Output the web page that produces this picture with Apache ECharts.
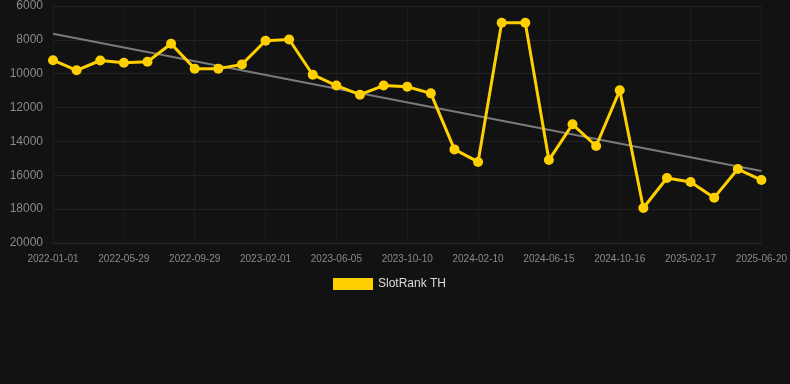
<!DOCTYPE html>
<html>
<head>
<meta charset="utf-8">
<script src="https://cdn.jsdelivr.net/npm/echarts@6/dist/echarts.min.js"></script>
<style>
html,body{margin:0;padding:0;background:#121212;}
#chart{width:790px;height:384px;}
</style>
</head>
<body>
<div id="chart"></div>
<script>
const categories = ["2022-01-01","2022-02-19","2022-04-09","2022-05-29","2022-07-10","2022-08-19","2022-09-29","2022-11-10","2022-12-21","2023-02-01","2023-03-15","2023-04-25","2023-06-05","2023-07-17","2023-08-28","2023-10-10","2023-11-20","2023-12-31","2024-02-10","2024-03-22","2024-05-04","2024-06-15","2024-07-26","2024-09-05","2024-10-16","2024-11-27","2025-01-07","2025-02-17","2025-03-31","2025-05-10","2025-06-20"];
const rankValues = [9200,9800,9220,9350,9290,8230,9700,9700,9450,8050,7980,10060,10700,11240,10700,10770,11160,14470,15210,6990,6990,15100,12990,14270,10980,17930,16160,16400,17320,15630,16280];
const trendStart = 7640;
const trendEnd = 15750;
const yTicks = {min:6000, max:20000, interval:2000};

const chart = echarts.init(document.getElementById('chart'));
chart.setOption({
  backgroundColor:'#121212',
  animation:false,
  grid:{left:53,right:28,top:6,bottom:141,containLabel:false},
  legend:{
    data:['SlotRank TH'],
    top:273,left:328,
    icon:'rect',itemWidth:40,itemHeight:12,itemGap:10,
    textStyle:{color:'#dddddd',fontSize:12,fontFamily:'Arial, Liberation Sans, sans-serif'}
  },
  xAxis:{
    type:'category',
    data:categories,
    boundaryGap:false,
    axisLine:{show:true,lineStyle:{color:'#2a2a2a'}},
    axisTick:{show:false},
    axisLabel:{interval:2,color:'#8a8a8a',fontSize:10,margin:11,fontFamily:'Arial, Liberation Sans, sans-serif'},
    splitLine:{show:true,interval:2,lineStyle:{color:'#1c1c1c'}}
  },
  yAxis:{
    type:'value',
    inverse:true,
    min:yTicks.min,max:yTicks.max,interval:yTicks.interval,
    axisLine:{show:false},
    axisTick:{show:false},
    axisLabel:{color:'#8a8a8a',fontSize:12,margin:10,fontFamily:'Arial, Liberation Sans, sans-serif',formatter:function(v){return String(v);}},
    splitLine:{show:true,lineStyle:{color:'#222222'}}
  },
  series:[
    {
      name:'SlotRank TH',
      type:'line',
      data:rankValues,
      symbol:'circle',
      symbolSize:10,
      lineStyle:{color:'#FFD000',width:3},
      itemStyle:{color:'#FFD000'},
      z:3
    },
    {
      name:'Trend',
      type:'line',
      data:[[0,trendStart],[categories.length-1,trendEnd]],
      symbol:'none',
      lineStyle:{color:'#7a7a7a',width:2},
      itemStyle:{color:'#7a7a7a'},
      z:2,
      silent:true
    }
  ]
});
</script>
</body>
</html>
